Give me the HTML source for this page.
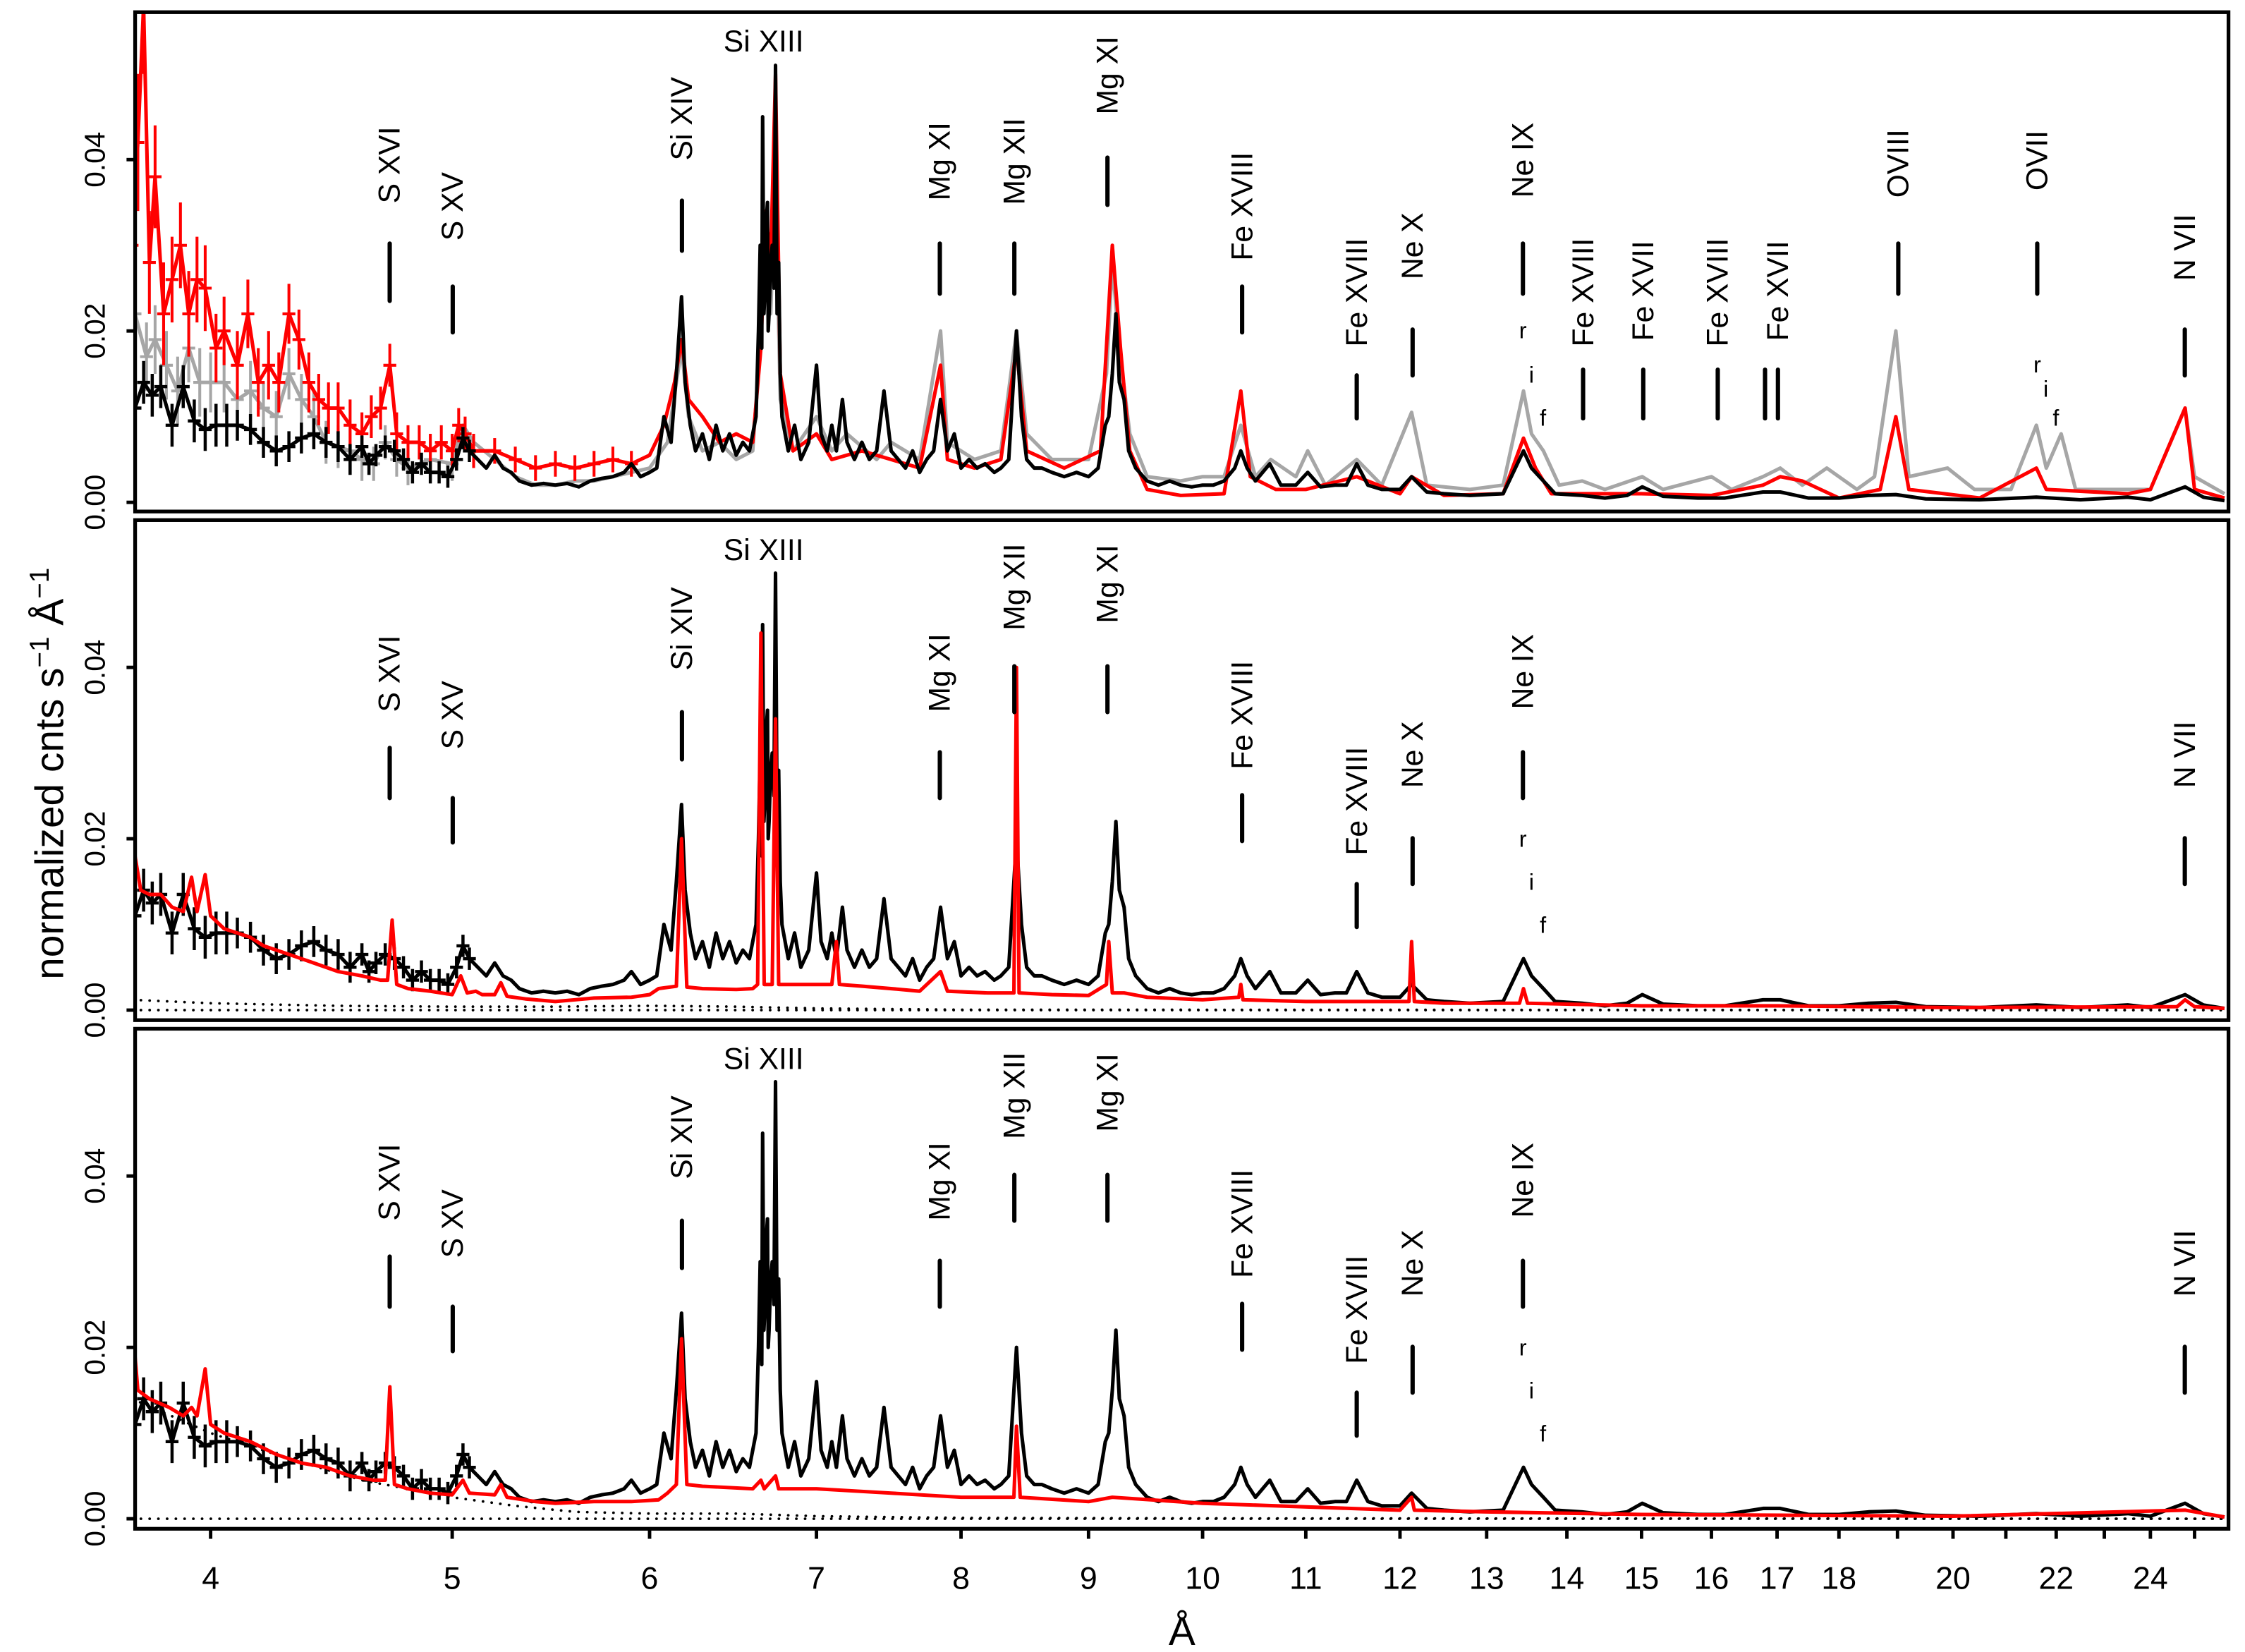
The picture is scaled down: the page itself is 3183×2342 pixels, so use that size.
<!DOCTYPE html>
<html><head><meta charset="utf-8">
<style>
html,body{margin:0;padding:0;background:#fff;}
svg{display:block;font-family:"Liberation Sans",Arial,sans-serif;}
</style></head>
<body>
<svg id="chart" xmlns="http://www.w3.org/2000/svg" width="3183" height="2342" viewBox="0 0 1567 1153">
<rect x="0" y="0" width="1567" height="1153" fill="#fff"/>
<g id="plot"></g>
</svg>
<script>
// ---- data (values in units of 1e-3 normalized cnts s^-1 A^-1) ----
const blackWl = [3.73,3.76,3.79,3.82,3.86,3.9,3.94,3.98,4.02,4.06,4.1,4.15,4.2,4.25,4.3,4.35,4.4,4.45,4.5,4.55,4.6,4.63,4.66,4.7,4.74,4.78,4.82,4.86,4.9,4.94,4.98,5.02,5.05,5.08,5.12,5.16,5.2,5.24,5.28,5.32,5.38,5.44,5.5,5.56,5.62,5.68,5.74,5.8,5.86,5.9,5.95,6.0,6.04,6.08,6.12,6.15,6.18,6.2,6.23,6.26,6.3,6.34,6.38,6.42,6.46,6.5,6.54,6.58,6.62,6.635,6.645,6.655,6.66,6.668,6.675,6.683,6.69,6.695,6.7,6.71,6.72,6.73,6.74,6.75,6.76,6.77,6.78,6.82,6.86,6.9,6.95,7.0,7.03,7.07,7.1,7.13,7.17,7.2,7.25,7.3,7.35,7.4,7.45,7.5,7.55,7.6,7.65,7.7,7.75,7.8,7.85,7.9,7.95,8.0,8.06,8.12,8.18,8.25,8.3,8.36,8.42,8.46,8.5,8.56,8.62,8.7,8.8,8.9,9.0,9.08,9.14,9.17,9.2,9.23,9.26,9.3,9.34,9.4,9.5,9.6,9.7,9.8,9.9,10.0,10.1,10.2,10.3,10.36,10.42,10.5,10.64,10.75,10.9,11.02,11.15,11.3,11.42,11.53,11.65,11.8,12.0,12.13,12.3,12.5,12.8,13.2,13.45,13.55,13.7,13.85,14.2,14.5,14.8,15.01,15.3,15.8,16.2,16.78,17.05,17.5,18.0,18.5,18.97,19.5,20.5,21.6,22.5,23.5,24.0,24.78,25.2,25.7];
const blackVal = [11,14,12.5,13.5,9,13.5,9.5,8.5,9,9,9,8.5,7,6,6.5,7.5,8,7,6.5,5,6.5,4.5,5.5,6.5,6,5,3.5,4.5,3.5,3.5,3,5,7.5,6,5,4,5.5,4,3.5,2.5,2,2.2,2,2.2,1.8,2.5,2.8,3,3.5,4.5,3,3.5,4,10,7,15,24,14,9,6,8,5,9,6,8,5.5,7,6,10,20,30,18,45,22,25,33,35,20,22,28,30,25,51,22,28,15,10,6,9,5,7,16,8,6,9,6,12,7,5,7,5,6,13,6,5,4,6,3.5,5,6,12,6,8,4,5,4,4.5,3.5,4,5,20,10,5,4,4,3.5,3,3.5,3,4,9,10,15,22,14,12,6,4,2.5,2,2.5,2,1.8,2,2,2.5,4,6,4,2.5,4.5,2,2,3.5,1.8,2,2,4.5,2,1.5,1.5,3,1.2,1,0.8,1,6,4,2.5,1,0.8,0.5,0.8,1.8,0.7,0.5,0.5,1.2,1.2,0.5,0.5,0.8,0.9,0.4,0.3,0.6,0.3,0.6,0.3,1.8,0.6,0.2];
const blackErr = [2.5,2.5,2.5,2.5,2.5,2.5,2.5,2.5,2.5,2.5,1.8,1.8,1.8,1.8,1.8,1.8,1.8,1.8,1.8,1.8,1.3,1.3,1.3,1.3,1.3,1.3,1.3,1.3,1.3,1.3,1.3,1.3,1.3,1.3];

const grayWl = [3.73,3.77,3.8,3.84,3.88,3.92,3.96,4.0,4.05,4.1,4.15,4.2,4.25,4.3,4.35,4.4,4.45,4.5,4.55,4.6,4.65,4.7,4.75,4.8,4.9,5.0,5.05,5.1,5.2,5.3,5.4,5.5,5.6,5.7,5.8,5.9,6.0,6.1,6.15,6.18,6.22,6.3,6.4,6.5,6.6,6.65,6.68,6.71,6.74,6.77,6.85,7.0,7.1,7.2,7.4,7.5,7.7,7.85,7.9,8.1,8.3,8.42,8.5,8.7,9.0,9.15,9.2,9.26,9.35,9.5,9.8,10.0,10.2,10.36,10.5,10.65,10.9,11.02,11.2,11.53,11.8,12.13,12.3,12.8,13.2,13.45,13.55,13.7,13.9,14.2,14.5,15.01,15.3,16.0,16.3,16.78,17.05,17.4,17.8,18.3,18.6,18.97,19.2,19.9,20.4,21.1,21.6,21.8,22.1,22.4,23.5,24.0,24.78,25.0,25.7];
const grayVal = [22,17,19,16,13,18,14,14,14,12,13,11,10,15,12,10,7,6.5,6,5,4.5,7,5,4,5,4.5,9,7,5,3,2,2,2.5,2.5,3,3.5,4,7,14,18,10,6,7,5,6,20,30,22,38,12,6,10,6,8,5,7,5,20,7,5,6,20,8,5,5,15,28,18,8,3,2.5,3,3,9,3,5,3,6,2,5,2,10.5,2,1.5,2,13,8,6,2,2.5,1.5,3,1.5,3,1.5,3,4,2,4,1.5,3,20,3,4,1.5,1.5,9,4,8,1.5,1.5,1.5,11,3,1];
const grayErr = [4,4,4,4,4,4,4,3.5,3.5,3.5,3.5,3,3,3,3,3,2.5,2.5,2.5,2.5,2,2,2,2,2,2];

const red1Wl = [3.72,3.74,3.76,3.78,3.8,3.83,3.86,3.89,3.92,3.95,3.98,4.02,4.05,4.1,4.14,4.18,4.22,4.26,4.3,4.34,4.38,4.42,4.46,4.5,4.55,4.6,4.64,4.68,4.72,4.75,4.8,4.85,4.9,4.95,5.0,5.03,5.06,5.1,5.2,5.3,5.4,5.5,5.6,5.7,5.8,5.9,6.0,6.08,6.14,6.18,6.22,6.3,6.4,6.5,6.6,6.65,6.68,6.71,6.74,6.77,6.85,7.0,7.1,7.3,7.5,7.7,7.85,7.9,8.1,8.3,8.42,8.5,8.8,9.1,9.2,9.27,9.35,9.5,9.8,10.2,10.36,10.45,10.7,11.0,11.53,12.0,12.13,12.5,13.2,13.45,13.6,13.8,15.0,16.0,16.78,17.05,17.4,18.0,18.7,18.97,19.2,20.5,21.6,21.8,23.5,24.0,24.78,25.0,25.7];
const red1Val = [30,42,58,28,38,22,26,30,22,26,25,18,20,16,22,14,16,14,22,19,14,12,11,11,9,8,10,11,16,8,7,7,6,7,6,9,8,6,6,5,4,4.5,4,4.5,5,4.5,5.5,9,14,19,12,10,7,8,7,18,34,28,50,15,6,8,5,6,5,4,16,5,4,5,18,6,4,6,30,18,6,1.5,0.8,1,13,3,1.5,1.5,3,1,3,0.8,1,7.5,4,1,1,0.8,2,3,2.5,0.5,1.5,10,1.5,0.5,4,1.5,1,1.5,11,1.5,0.5];
const red1Err = [8,8,8,6,6,6,5,5,5,5,5,4,4,4,4,4,4,3.5,3.5,3.5,3.5,3,3,3,3,2.5,2.5,2.5,2.5,2.5,2,2,2,2,2,2,2,2,1.5,1.5,1.5,1.5,1.5,1.5,1.5,1.5];

const red2Wl = [3.72,3.75,3.78,3.82,3.86,3.9,3.93,3.95,3.98,4.0,4.05,4.1,4.15,4.2,4.25,4.3,4.35,4.4,4.5,4.6,4.68,4.71,4.73,4.75,4.8,4.9,5.0,5.04,5.07,5.11,5.14,5.2,5.23,5.26,5.35,5.5,5.6,5.7,5.9,6.0,6.05,6.15,6.18,6.21,6.3,6.5,6.6,6.63,6.65,6.67,6.72,6.74,6.76,6.9,7.1,7.13,7.15,7.3,7.5,7.7,7.85,7.9,8.2,8.4,8.42,8.44,8.7,9.0,9.15,9.17,9.2,9.3,9.5,10.0,10.34,10.36,10.38,11.0,12.1,12.13,12.16,12.5,13.4,13.45,13.5,15,17,20,24.6,24.78,25.0,25.7];
const red2Val = [20,14,13.5,13.5,12,11.5,15.5,11.5,15.8,11,9.5,9,8.5,7.5,7,6.5,6,5.5,4.5,4,3.5,3.5,10.5,3,2.5,2.2,1.8,4,2,2.2,1.8,1.8,3.2,1.6,1.3,1,1.2,1.4,1.5,1.8,2.5,2.8,20,2.7,2.5,2.4,2.5,3,44,3,3,34,3,3,3,8,3,2.8,2.5,2.2,4.5,2.2,2,2,40,2,1.8,1.7,3,8,2,2,1.5,1.2,1.5,3,1.2,1,1,8,1,0.8,0.8,2.5,0.8,0.5,0.5,0.3,0.4,1.2,0.4,0.2];

const red3Wl = [3.72,3.74,3.78,3.85,3.9,3.93,3.95,3.98,4.0,4.05,4.15,4.25,4.35,4.45,4.55,4.65,4.7,4.72,4.74,4.8,4.9,5.0,5.05,5.08,5.2,5.23,5.26,5.4,5.5,5.7,5.9,6.05,6.1,6.15,6.18,6.21,6.3,6.6,6.65,6.67,6.74,6.76,7.0,7.5,8.0,8.4,8.42,8.45,9.0,9.2,10,12,12.13,12.16,13,15,20,24.78,25.7];
const red3Val = [23,15,14,13,12,13,12,17.5,11,10,9,7.5,6.5,6,5,4.5,4.5,15.4,4,3.5,3,2.8,4.5,3,2.8,4,2.5,2,1.8,2,2,2.2,3,4,21,4,3.8,3.5,4.5,3.5,5,3.5,3.5,3,2.5,2.5,10.8,2.5,2,2.5,1.8,1,2.5,1,0.8,0.5,0.3,1,0.2];

const bg2Wl = [3.72,4.0,4.5,5.0,5.5,6.0,6.5,7.0,8.0,25.7];
const bg2Val = [1.2,0.8,0.5,0.4,0.4,0.5,0.4,0.2,0.05,0];
const bg3Wl = [3.72,4.0,4.3,4.6,5.0,5.3,5.6,6.0,6.5,7.0,8.0,10.0,25.7];
const bg3Val = [14,10,7,4.5,2.5,1.5,0.8,0.6,0.6,0.3,0.1,0.05,0];

const yTickVals = [0, 20, 40];
const yTickLabels = ["0.00","0.02","0.04"];
const xTickVals = [4,5,6,7,8,9,10,11,12,13,14,15,16,17,18,19,20,21,22,23,24,25];
const xTickLabels = ["4","5","6","7","8","9","10","11","12","13","14","15","16","17","18","","20","","22","","24",""];

// ---- layout ----
const NS = "http://www.w3.org/2000/svg";
const plot = document.getElementById('plot');
const X0 = 94.3, X1 = 1555.5;
const panels = [{top:8.5,bottom:357,zero:350.6},{top:363,bottom:712,zero:705},{top:718,bottom:1067,zero:1060}];
const PXPER = 119.6/20; // px per 1e-3
function xs(w){ return 147 + 1740*(Math.log10(w) - Math.log10(4)); }
function ys(p, v){ return panels[p].zero - v*PXPER; }
function mk(tag, attrs, parent){ const e=document.createElementNS(NS,tag); for(const k in attrs) e.setAttribute(k, attrs[k]); (parent||plot).appendChild(e); return e; }

const defs = mk('defs',{});
panels.forEach((p,i)=>{
  const c = mk('clipPath',{id:'clip'+i},defs);
  mk('rect',{x:X0,y:p.top,width:X1-X0,height:p.bottom-p.top},c);
});

function drawLine(p, wl, val, color, width, name, dash){
  let d='';
  for(let i=0;i<wl.length;i++){ d += (i?'L':'M') + xs(wl[i]).toFixed(1)+','+ys(p,val[i]).toFixed(1); }
  const e = mk('path',{d:d,fill:'none',stroke:color,'stroke-width':width,'stroke-linejoin':'round','clip-path':'url(#clip'+p+')'});
  if(dash){ e.setAttribute('stroke-dasharray',dash); e.setAttribute('stroke-linecap','round'); }
  
  
  return e;
}
function drawErr(p, wl, val, err, color, width, name){
  const g = mk('g',{stroke:color,'stroke-width':width,'clip-path':'url(#clip'+p+')'});
  
  
  for(let i=0;i<err.length && i<wl.length;i++){
    const x=xs(wl[i]), y=ys(p,val[i]);
    mk('line',{x1:x,x2:x,y1:ys(p,val[i]-err[i]),y2:ys(p,val[i]+err[i])},g);
    mk('line',{x1:x-4.5,x2:x+4.5,y1:y,y2:y},g);
  }
  return g;
}

const LW = 2.5;
// panel 1
drawLine(0, grayWl, grayVal, '#a6a6a6', LW, 'gray-spectrum-panel1');
drawErr(0, grayWl, grayVal, grayErr, '#a6a6a6', 2, 'gray-error-bars-panel1');
drawLine(0, red1Wl, red1Val, '#ff0000', LW, 'red-spectrum-panel1');
drawErr(0, red1Wl, red1Val, red1Err, '#ff0000', 2, 'red-error-bars-panel1');
drawLine(0, blackWl, blackVal, '#000', LW, 'black-spectrum-panel1');
drawErr(0, blackWl, blackVal, blackErr, '#000', 2.2, 'black-error-bars-panel1');
// panel 2
drawLine(1, [3.72,25.7], [0,0], '#000', 1.8, 'zero-dotted-line-panel2', '0.1 6');
drawLine(1, bg2Wl, bg2Val, '#000', 1.8, 'background-dotted-panel2', '0.1 6');
drawLine(1, blackWl, blackVal, '#000', LW, 'black-spectrum-panel2');
drawErr(1, blackWl, blackVal, blackErr, '#000', 2.2, 'black-error-bars-panel2');
drawLine(1, red2Wl, red2Val, '#ff0000', LW, 'red-model-panel2');
// panel 3
drawLine(2, [3.72,25.7], [0,0], '#000', 1.8, 'zero-dotted-line-panel3', '0.1 6');
drawLine(2, bg3Wl, bg3Val, '#000', 1.8, 'background-dotted-panel3', '0.1 6');
drawLine(2, blackWl, blackVal, '#000', LW, 'black-spectrum-panel3');
drawErr(2, blackWl, blackVal, blackErr, '#000', 2.2, 'black-error-bars-panel3');
drawLine(2, red3Wl, red3Val, '#ff0000', LW, 'red-model-panel3');

// frames & y ticks
panels.forEach((p,i)=>{
  const r = mk('rect',{x:X0,y:p.top,width:X1-X0,height:p.bottom-p.top,fill:'none',stroke:'#000','stroke-width':2.6});
  
  
  yTickVals.forEach((v,j)=>{
    const y = ys(i,v);
    const t = mk('line',{x1:X0-6,x2:X0,y1:y,y2:y,stroke:'#000','stroke-width':2.4});
    
    
    const tx = mk('text',{transform:'translate(73,'+y+') rotate(-90)','text-anchor':'middle','font-size':20});
    tx.textContent = yTickLabels[j];
    
    
  });
});
// x ticks
xTickVals.forEach((w,j)=>{
  const x=xs(w);
  const t = mk('line',{x1:x,x2:x,y1:1067,y2:1074,stroke:'#000','stroke-width':2.4});
  
  
  if(xTickLabels[j]){
    const tx = mk('text',{x:x,y:1109,'text-anchor':'middle','font-size':22});
    tx.textContent = xTickLabels[j];
    
    
  }
});

// line identification labels: [text, x, textBottomY, barTop, barBottom]
const labelsP1 = [["S XVI",272,142,170,210],["S XV",316,168,200,232],["Si XIV",476,112,140,175],["Mg XI",656,140,170,205],["Mg XII",708,143,170,205],["Mg XI",773,80,110,143],["Fe XVIII",867,182,200,232],["Fe XVIII",947,242,262,292],["Ne X",986,195,230,262],["Ne IX",1063,138,170,205],["Fe XVIII",1105,242,258,292],["Fe XVII",1147,238,258,292],["Fe XVIII",1199,242,258,292],["Fe XVII",1241,238,258,292],["OVIII",1325,138,170,205],["OVII",1422,133,170,205],["N VII",1525,196,230,262]];
const labelsP2 = [["S XVI",272,497,522,557],["S XV",316,523,557,588],["Si XIV",476,468,497,530],["Mg XI",656,497,525,557],["Mg XII",708,440,465,497],["Mg XI",773,435,465,497],["Fe XVIII",867,537,555,587],["Fe XVIII",947,597,617,647],["Ne X",986,550,585,617],["Ne IX",1063,495,525,557],["N VII",1525,550,585,617]];
function drawLabels(list, dy, pn){
  const g = mk('g',{});
  
  
  list.forEach(l=>{
    const t = mk('text',{transform:'translate('+(l[1]+7)+','+(l[2]+dy)+') rotate(-90)','text-anchor':'start','font-size':21},g);
    t.textContent = l[0];
    
    
    const b = mk('line',{x1:l[1],x2:l[1],y1:l[3]+dy,y2:l[4]+dy,stroke:'#000','stroke-width':3,'stroke-linecap':'round'},g);
    
    
  });
  return g;
}
drawLabels(labelsP1, 0, 1);
drawLabels(labelsP2, 0, 2);
drawLabels(labelsP2, 355, 3);
(function(){const b=mk('line',{x1:1232,x2:1232,y1:258,y2:292,stroke:'#000','stroke-width':3,'stroke-linecap':'round'});

})();
[28,383,738].forEach((y,i)=>{
  const t=mk('text',{x:533,y:y+8,'text-anchor':'middle','font-size':21});
  t.textContent='Si XIII';
  
  
});
const rif = [["r",1063,236],["i",1069,267],["f",1077,297],["r",1063,591],["i",1069,621],["f",1077,651],["r",1063,946],["i",1069,976],["f",1077,1006],["r",1422,260],["i",1428,277],["f",1435,297]];
rif.forEach(r=>{
  const t=mk('text',{x:r[1],y:r[2],'text-anchor':'middle','font-size':16});
  t.textContent=r[0];
  
  
});
const yt = mk('text',{transform:'translate(44,540) rotate(-90)','text-anchor':'middle','font-size':28});
yt.innerHTML = 'normalized cnts s<tspan dy="-10" font-size="19">−1</tspan><tspan dy="10"> Å</tspan><tspan dy="-10" font-size="19">−1</tspan>';


const xt = mk('text',{x:825,y:1148,'text-anchor':'middle','font-size':28});
xt.textContent='Å';


</script>
</body></html>
